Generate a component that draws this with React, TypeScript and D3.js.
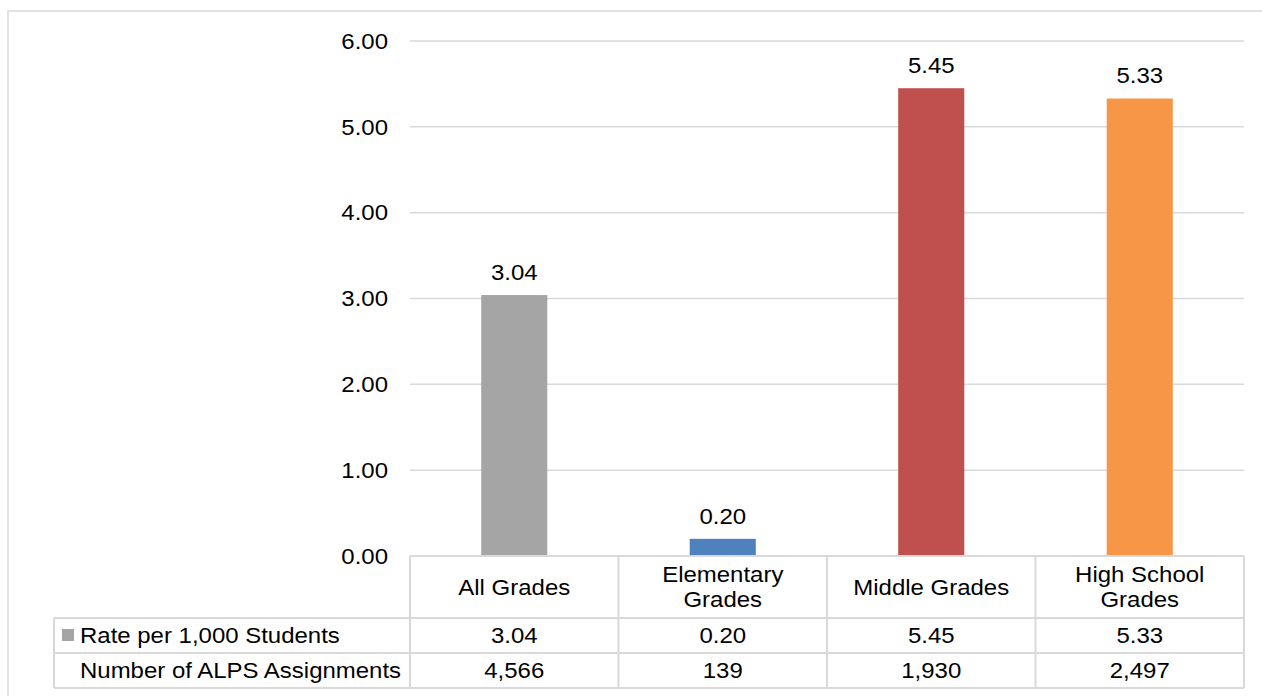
import React from "react";
import * as d3 from "d3";

const categories = ["All Grades", "Elementary Grades", "Middle Grades", "High School Grades"];
const categoryLines = [["All Grades"], ["Elementary", "Grades"], ["Middle Grades"], ["High School", "Grades"]];
const rateValues = [3.04, 0.2, 5.45, 5.33];
const assignmentCounts = [4566, 139, 1930, 2497];
const barColors = ["#a5a5a5", "#4f81bd", "#c0504d", "#f79646"];
const yTicks = [0, 1, 2, 3, 4, 5, 6];
const seriesName = "Rate per 1,000 Students";
const countRowName = "Number of ALPS Assignments";

const W = 1262;
const H = 696;
const plotLeft = 410;
const plotRight = 1244;
const plotTop = 41;
const plotBottom = 556;
const headerBottom = 618;
const row1Bottom = 653;
const row2Bottom = 688;
const tableLeft = 54;

const FONT = "Liberation Sans, Arial, sans-serif";
const FS = 22;
const SX = 1.09;
const GRID = "#d9d9d9";

type TxtProps = { x: number; y: number; anchor?: "start" | "middle" | "end"; children: React.ReactNode };
function Txt({ x, y, anchor = "start", children }: TxtProps) {
  return (
    <text
      transform={`translate(${x},${y}) scale(${SX},1)`}
      dy="0.35em"
      textAnchor={anchor}
      fontFamily={FONT}
      fontSize={FS}
      fill="#000"
    >
      {children}
    </text>
  );
}

export default function App() {
  const x = d3
    .scaleBand<string>()
    .domain(categories)
    .range([plotLeft, plotRight])
    .paddingInner(0.683)
    .paddingOuter(0.3415);
  const y = d3.scaleLinear().domain([0, 6]).range([plotBottom, plotTop]);
  const step = (plotRight - plotLeft) / categories.length;
  const colCenter = (i: number) => plotLeft + step * (i + 0.5);
  const fmt2 = d3.format(".2f");
  const fmtInt = d3.format(",");

  return (
    <svg
      width={W}
      height={H}
      style={{ position: "absolute", left: 0, top: 0, background: "#fff" }}
    >
      {/* outer border */}
      <rect x={8} y={11} width={W + 20} height={H + 20} fill="none" stroke={GRID} strokeWidth={1.5} />

      {/* gridlines */}
      {yTicks.map((t) => (
        <line key={"g" + t} x1={plotLeft} x2={plotRight} y1={y(t)} y2={y(t)} stroke={GRID} strokeWidth={1.5} />
      ))}
      {/* tick labels */}
      {yTicks.map((t) => (
        <Txt key={"t" + t} x={388} y={y(t)} anchor="end">
          {fmt2(t)}
        </Txt>
      ))}

      {/* bars */}
      {categories.map((c, i) => (
        <rect
          key={"b" + c}
          x={x(c)}
          y={y(rateValues[i])}
          width={x.bandwidth()}
          height={plotBottom - y(rateValues[i])}
          fill={barColors[i]}
        />
      ))}
      {/* data labels */}
      {categories.map((c, i) => (
        <Txt key={"l" + c} x={(x(c) as number) + x.bandwidth() / 2} y={y(rateValues[i]) - 23} anchor="middle">
          {fmt2(rateValues[i])}
        </Txt>
      ))}

      {/* data table lines */}
      <line x1={plotLeft} x2={plotRight} y1={plotBottom} y2={plotBottom} stroke={GRID} strokeWidth={2} />
      {[headerBottom, row1Bottom, row2Bottom].map((yy) => (
        <line key={"h" + yy} x1={tableLeft} x2={plotRight} y1={yy} y2={yy} stroke={GRID} strokeWidth={2} />
      ))}
      <line x1={tableLeft} x2={tableLeft} y1={headerBottom} y2={row2Bottom} stroke={GRID} strokeWidth={2} />
      {d3.range(categories.length + 1).map((k) => (
        <line
          key={"v" + k}
          x1={plotLeft + step * k}
          x2={plotLeft + step * k}
          y1={plotBottom}
          y2={row2Bottom}
          stroke={GRID}
          strokeWidth={2}
        />
      ))}

      {/* header category labels */}
      {categoryLines.map((lines, i) => {
        const mid = (plotBottom + headerBottom) / 2;
        const lh = 25;
        const start = mid - ((lines.length - 1) * lh) / 2;
        return lines.map((ln, j) => (
          <Txt key={"c" + i + j} x={colCenter(i)} y={start + j * lh} anchor="middle">
            {ln}
          </Txt>
        ));
      })}

      {/* row 1 */}
      <rect x={62} y={629} width={12} height={12} fill={barColors[0]} />
      <Txt x={80} y={(headerBottom + row1Bottom) / 2}>{seriesName}</Txt>
      {rateValues.map((v, i) => (
        <Txt key={"r1" + i} x={colCenter(i)} y={(headerBottom + row1Bottom) / 2} anchor="middle">
          {fmt2(v)}
        </Txt>
      ))}

      {/* row 2 */}
      <Txt x={80} y={(row1Bottom + row2Bottom) / 2}>{countRowName}</Txt>
      {assignmentCounts.map((v, i) => (
        <Txt key={"r2" + i} x={colCenter(i)} y={(row1Bottom + row2Bottom) / 2} anchor="middle">
          {fmtInt(v)}
        </Txt>
      ))}
    </svg>
  );
}
